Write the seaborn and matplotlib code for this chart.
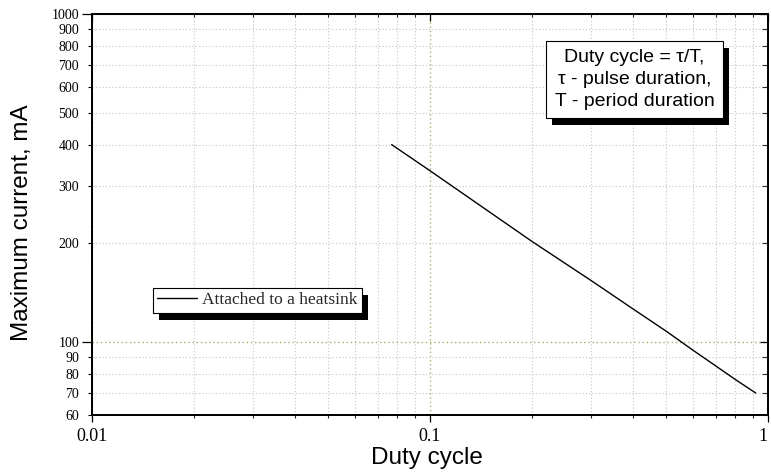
import numpy as np
import matplotlib
matplotlib.use("Agg")
import matplotlib.pyplot as plt
import matplotlib.ticker as mticker
from matplotlib.patches import Rectangle
import seaborn as sns

# values
duty = [0.077, 0.1, 0.2, 0.3, 0.4, 0.5, 0.6, 0.7, 0.8, 0.92]
current = [400, 333, 203, 154, 126, 108, 94.5, 84.7, 77, 70]
series_label = "Attached to a heatsink"

y_major = [100, 1000]
y_minor = [60, 70, 80, 90, 200, 300, 400, 500, 600, 700, 800, 900]
x_major = [0.01, 0.1, 1]
x_labels = ["0.01", "0.1", "1"]
note = "Duty cycle = \u03c4/T,\n\u03c4 - pulse duration,\nT - period duration"

sns.set_theme(style="white")
plt.rcParams["font.family"] = ["Liberation Serif", "DejaVu Serif"]

W, H = 771, 475
fig = plt.figure(figsize=(W / 100, H / 100), dpi=100)
ax = fig.add_axes([92 / W, 60 / H, 676 / W, 401 / H])

sns.lineplot(x=duty, y=current, ax=ax, color="black", linewidth=1.0,
             label=series_label, sort=False)

ax.set_xscale("log")
ax.set_yscale("log")
ax.set_xlim(0.01, 1)
ax.set_ylim(60, 1000)

# ticks
ax.xaxis.set_major_locator(mticker.FixedLocator(x_major))
ax.xaxis.set_major_formatter(mticker.FixedFormatter(x_labels))
ax.xaxis.set_minor_locator(mticker.LogLocator(base=10, subs=np.arange(2, 10)))
ax.xaxis.set_minor_formatter(mticker.NullFormatter())
ax.yaxis.set_major_locator(mticker.FixedLocator(y_major))
ax.yaxis.set_minor_locator(mticker.FixedLocator(y_minor))
fmt = mticker.FuncFormatter(lambda v, p: f"{v:g}")
ax.yaxis.set_major_formatter(fmt)
ax.yaxis.set_minor_formatter(fmt)

ax.tick_params(axis="x", which="major", direction="out", length=5, width=0.9,
               pad=4.5, labelsize=13, colors="black", bottom=True)
ax.tick_params(axis="x", which="minor", direction="out", length=2.5, width=0.8,
               bottom=True)
ax.tick_params(axis="y", which="major", direction="out", length=7.2, width=0.9,
               pad=2, labelsize=10, colors="black", left=True)
ax.tick_params(axis="y", which="minor", direction="out", length=2.9, width=0.8,
               pad=6.3, labelsize=10, colors="black", left=True)

# keep the "1" at the right edge inside the picture
ax.get_xticklabels()[-1].set_horizontalalignment("right")

# grid: minor grey, major olive
ax.set_axisbelow(True)
ax.grid(which="minor", color="#c4c4c4", linestyle=(0, (1, 2)), linewidth=0.8)
ax.grid(which="major", color="#b0b060", linestyle=(0, (1, 2)), linewidth=1.0)

for s in ax.spines.values():
    s.set_color("black")
    s.set_linewidth(1.1)

# inward ticks on top and right
ax_top = ax.twiny()
ax_top.set_xscale("log")
ax_top.set_xlim(ax.get_xlim())
ax_top.xaxis.set_major_locator(mticker.FixedLocator(x_major))
ax_top.xaxis.set_minor_locator(mticker.LogLocator(base=10, subs=np.arange(2, 10)))
ax_top.tick_params(axis="x", which="major", direction="in", length=5, width=0.9,
                   top=True, labeltop=False, bottom=False, colors="black")
ax_top.tick_params(axis="x", which="minor", direction="in", length=2.5, width=0.8,
                   top=True, bottom=False)

ax_right = ax.twinx()
ax_right.set_yscale("log")
ax_right.set_ylim(ax.get_ylim())
ax_right.yaxis.set_major_locator(mticker.FixedLocator(y_major))
ax_right.yaxis.set_minor_locator(mticker.FixedLocator(y_minor))
ax_right.tick_params(axis="y", which="major", direction="in", length=6, width=0.9,
                     right=True, labelright=False, left=False, colors="black")
ax_right.tick_params(axis="y", which="minor", direction="in", length=4.5, width=0.8,
                     right=True, labelright=False, left=False)
for a in (ax_top, ax_right):
    for s in a.spines.values():
        s.set_color("black")
        s.set_linewidth(1.1)

# axis labels
ax.set_xlabel("Duty cycle", family="Liberation Sans", fontsize=17.5, color="black")
ax.xaxis.set_label_coords(0.496, -0.08)
ax.set_ylabel("Maximum current, mA", family="Liberation Sans", fontsize=17.5,
              color="black")
ax.yaxis.set_label_coords(-0.087, 0.48)

# legend
leg = ax.legend(loc="upper left", bbox_to_anchor=(153 / W, 1 - 288 / H),
                bbox_transform=fig.transFigure, frameon=True, fancybox=False,
                framealpha=1, edgecolor="black", borderpad=0.25, borderaxespad=0,
                handlelength=2.3, handletextpad=0.3,
                prop={"family": "Liberation Serif", "size": 12.5})
leg.get_frame().set_linewidth(0.8)
leg.set_zorder(6)

txt = ax.text(634.5 / W, 1 - 79.5 / H, note, transform=fig.transFigure,
              ha="center", va="center", fontsize=14, family="Liberation Sans",
              linespacing=1.35, zorder=7, color="black",
              bbox=dict(boxstyle="square,pad=0.45", fc="white", ec="black", lw=0.8))

# black drop shadows behind legend and note box
fig.canvas.draw()
inv = fig.transFigure.inverted()
for patch, z in [(leg.get_frame(), 5.5), (txt.get_bbox_patch(), 6.5)]:
    bb = patch.get_window_extent()
    (x0, y0), (x1, y1) = inv.transform([[bb.x0 + 6, bb.y0 - 7], [bb.x1 + 6, bb.y1 - 7]])
    ax.add_artist(Rectangle((x0, y0), x1 - x0, y1 - y0, transform=fig.transFigure,
                            fc="black", ec="none", zorder=z, clip_on=False))

fig.savefig("out.png", dpi=100)
